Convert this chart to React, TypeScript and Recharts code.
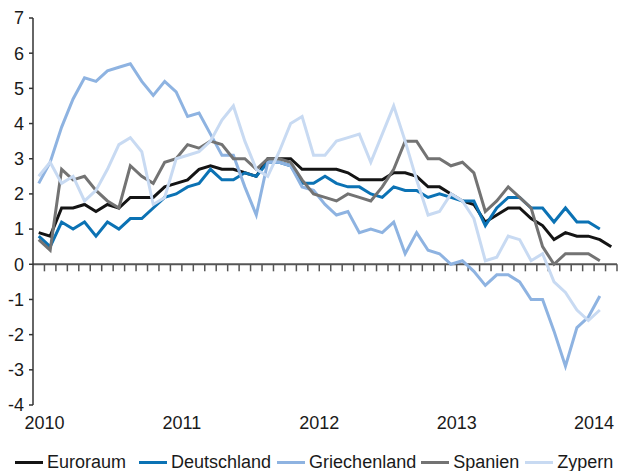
import React from 'react';
import { LineChart, Line, XAxis, YAxis, ReferenceLine, Legend } from 'recharts';

// monthly values, Jan 2010 .. Mar 2014 (index 0 = Jan 2010)
const years = ['2010', '2011', '2012', '2013', '2014'];
const yTicks = [-4, -3, -2, -1, 0, 1, 2, 3, 4, 5, 6, 7];

const euroraum = [
  0.9, 0.8, 1.6, 1.6, 1.7, 1.5, 1.7, 1.6, 1.9, 1.9, 1.9, 2.2,
  2.3, 2.4, 2.7, 2.8, 2.7, 2.7, 2.6, 2.5, 3.0, 3.0, 3.0, 2.7,
  2.7, 2.7, 2.7, 2.6, 2.4, 2.4, 2.4, 2.6, 2.6, 2.5, 2.2, 2.2,
  2.0, 1.8, 1.7, 1.2, 1.4, 1.6, 1.6, 1.3, 1.1, 0.7, 0.9, 0.8,
  0.8, 0.7, 0.5,
];
const deutschland = [
  0.8, 0.5, 1.2, 1.0, 1.2, 0.8, 1.2, 1.0, 1.3, 1.3, 1.6, 1.9,
  2.0, 2.2, 2.3, 2.7, 2.4, 2.4, 2.6, 2.5, 2.9, 2.9, 2.8, 2.3,
  2.3, 2.5, 2.3, 2.2, 2.2, 2.0, 1.9, 2.2, 2.1, 2.1, 1.9, 2.0,
  1.9, 1.8, 1.8, 1.1, 1.6, 1.9, 1.9, 1.6, 1.6, 1.2, 1.6, 1.2,
  1.2, 1.0,
];
const griechenland = [
  2.3, 2.9, 3.9, 4.7, 5.3, 5.2, 5.5, 5.6, 5.7, 5.2, 4.8, 5.2,
  4.9, 4.2, 4.3, 3.7, 3.1, 3.1, 2.2, 1.4, 2.9, 2.9, 2.8, 2.2,
  2.1, 1.7, 1.4, 1.5, 0.9, 1.0, 0.9, 1.2, 0.3, 0.9, 0.4, 0.3,
  0.0, 0.1, -0.2, -0.6, -0.3, -0.3, -0.5, -1.0, -1.0, -1.9, -2.9, -1.8,
  -1.5, -0.9,
];
const spanien = [
  0.7, 0.4, 2.7, 2.4, 2.5, 2.1, 1.8, 1.6, 2.8, 2.5, 2.3, 2.9,
  3.0, 3.4, 3.3, 3.5, 3.4, 3.0, 3.0, 2.7, 3.0, 3.0, 2.9, 2.4,
  2.0, 1.9, 1.8, 2.0, 1.9, 1.8, 2.2, 2.7, 3.5, 3.5, 3.0, 3.0,
  2.8, 2.9, 2.6, 1.5, 1.8, 2.2, 1.9, 1.6, 0.5, 0.0, 0.3, 0.3,
  0.3, 0.1,
];
const zypern = [
  2.5, 2.9, 2.3, 2.5, 1.8, 2.1, 2.7, 3.4, 3.6, 3.2, 1.7, 1.9,
  3.0, 3.1, 3.2, 3.5, 4.1, 4.5, 3.5, 2.7, 2.5, 3.2, 4.0, 4.2,
  3.1, 3.1, 3.5, 3.6, 3.7, 2.9, 3.7, 4.5, 3.5, 2.4, 1.4, 1.5,
  2.0, 1.8, 1.3, 0.1, 0.2, 0.8, 0.7, 0.1, 0.3, -0.5, -0.8, -1.3,
  -1.6, -1.3,
];

const series = [
  { key: 'euroraum', name: 'Euroraum', color: '#141414', values: euroraum },
  { key: 'deutschland', name: 'Deutschland', color: '#0b72b4', values: deutschland },
  { key: 'griechenland', name: 'Griechenland', color: '#8eb3e1', values: griechenland },
  { key: 'spanien', name: 'Spanien', color: '#737373', values: spanien },
  { key: 'zypern', name: 'Zypern', color: '#c8daf2', values: zypern },
];

const data = euroraum.map((_, i) => {
  const row: Record<string, number | undefined> = { m: i };
  series.forEach((s) => {
    row[s.key] = s.values[i];
  });
  return row;
});

// month boundaries for the little tick marks on the zero line
const monthTicks = data.map((d) => (d.m as number) + 0.5);
const yearTicks = years.map((_, i) => i * 12 + 0.5);

const legendGaps = [13, 6, 5, 6, 0];

function LegendContent() {
  return (
    <div
      style={{
        display: 'flex',
        alignItems: 'center',
        height: 36,
        paddingTop: 19,
        boxSizing: 'border-box',
        paddingLeft: 15,
        fontSize: 18,
        color: '#1a1a1a',
        whiteSpace: 'nowrap',
      }}
    >
      {series.map((s, i) => (
        <div key={s.key} style={{ display: 'flex', alignItems: 'center', marginRight: legendGaps[i] }}>
          <span style={{ display: 'inline-block', width: 28, height: 3, background: s.color, marginRight: 4 }} />
          <span>{s.name}</span>
        </div>
      ))}
    </div>
  );
}

export default function App() {
  return (
    <div style={{ position: 'absolute', left: 0, top: 0, fontFamily: '"Liberation Sans", Arial, sans-serif' }}>
      <LineChart width={619} height={471} data={data} margin={{ top: 18, right: 2, bottom: 0, left: 0 }}>
        <XAxis
          dataKey="m"
          type="number"
          domain={[-0.5, 50.5]}
          ticks={yearTicks}
          interval={0}
          tickFormatter={(v: number) => years[Math.round((v - 0.5) / 12)]}
          axisLine={false}
          tickLine={false}
          tickMargin={5}
          height={30}
          tick={{ fill: '#1a1a1a', fontSize: 18 }}
        />
        <YAxis
          type="number"
          domain={[-4, 7]}
          ticks={yTicks}
          interval={0}
          width={33}
          tickSize={4}
          tickMargin={5}
          axisLine={{ stroke: '#333', strokeWidth: 1.5 }}
          tickLine={{ stroke: '#333', strokeWidth: 1.5 }}
          tick={{ fill: '#1a1a1a', fontSize: 18 }}
        />
        <ReferenceLine y={0} stroke="#555" strokeWidth={2} />
        {monthTicks.map((t) => (
          <ReferenceLine
            key={t}
            segment={[{ x: t, y: 0 }, { x: t, y: -0.2 }]}
            stroke="#555"
            strokeWidth={1.5}
          />
        ))}
        {series.map((s) => (
          <Line
            key={s.key}
            type="linear"
            dataKey={s.key}
            name={s.name}
            stroke={s.color}
            strokeWidth={3}
            dot={false}
            activeDot={false}
            isAnimationActive={false}
          />
        ))}
        <Legend verticalAlign="bottom" height={36} content={<LegendContent />} />
      </LineChart>
    </div>
  );
}
